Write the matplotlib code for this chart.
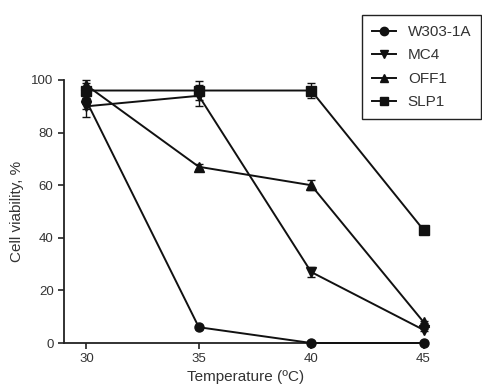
import matplotlib
matplotlib.use("Agg")
import matplotlib.pyplot as plt
from matplotlib.lines import Line2D

plt.rcParams['font.family'] = ['Liberation Sans', 'DejaVu Sans']

# data
temps = [30, 35, 40, 45]
w303 = [92, 6, 0, 0]
mc4 = [90, 94, 27, 5]
off1 = [98, 67, 60, 8]
slp1 = [96, 96, 96, 43]

w303_err = [3, 0.5, 0.5, 0.5]
mc4_err = [4, 4, 2, 0.5]
off1_err = [2, 1, 2, 0.5]
slp1_err = [3, 3.5, 3, 1]

labels = ['W303-1A', 'MC4', 'OFF1', 'SLP1']
markers = ['o', 'v', '^', 's']

fig = plt.figure(figsize=(4.82, 3.89), dpi=100)
ax = fig.add_axes([64 / 482, 46 / 389, 364 / 482, 263 / 389])

series = [w303, mc4, off1, slp1]
errs = [w303_err, mc4_err, off1_err, slp1_err]
handles = []
for vals, e, m, lab in zip(series, errs, markers, labels):
    ax.errorbar(temps, vals, yerr=e, marker=m, color='#111111', lw=1.4,
                ms=6.5, capsize=3, elinewidth=1, capthick=1,
                clip_on=False, zorder=3)
    handles.append(Line2D([], [], marker=m, color='#111111', lw=1.4,
                          ms=6, label=lab))

ax.set_xlim(29, 45.2)
ax.set_ylim(0, 100)
ax.set_xticks(temps)
ax.set_yticks([0, 20, 40, 60, 80, 100])
ax.spines['top'].set_visible(False)
ax.spines['right'].set_visible(False)
for s in ['left', 'bottom']:
    ax.spines[s].set_linewidth(1.3)
    ax.spines[s].set_color('#222222')
ax.tick_params(direction='out', length=4, width=1.2, colors='#222222',
               labelsize=9.5, labelcolor='#333333')

ax.set_xlabel('Temperature (ºC)', fontsize=11, color='#333333', labelpad=3)
ax.set_ylabel('Cell viability, %', fontsize=11, color='#333333', labelpad=5)

leg = fig.legend(handles=handles, loc='upper left',
                 bbox_to_anchor=(362 / 482, 1 - 15 / 389),
                 fancybox=False, edgecolor='#222222', fontsize=11,
                 handlelength=1.6, labelspacing=0.62, borderpad=0.65,
                 handletextpad=0.75, framealpha=1, borderaxespad=0)
leg.get_frame().set_linewidth(1.0)
for t in leg.get_texts():
    t.set_color('#333333')

fig.savefig('out.png', dpi=100)
